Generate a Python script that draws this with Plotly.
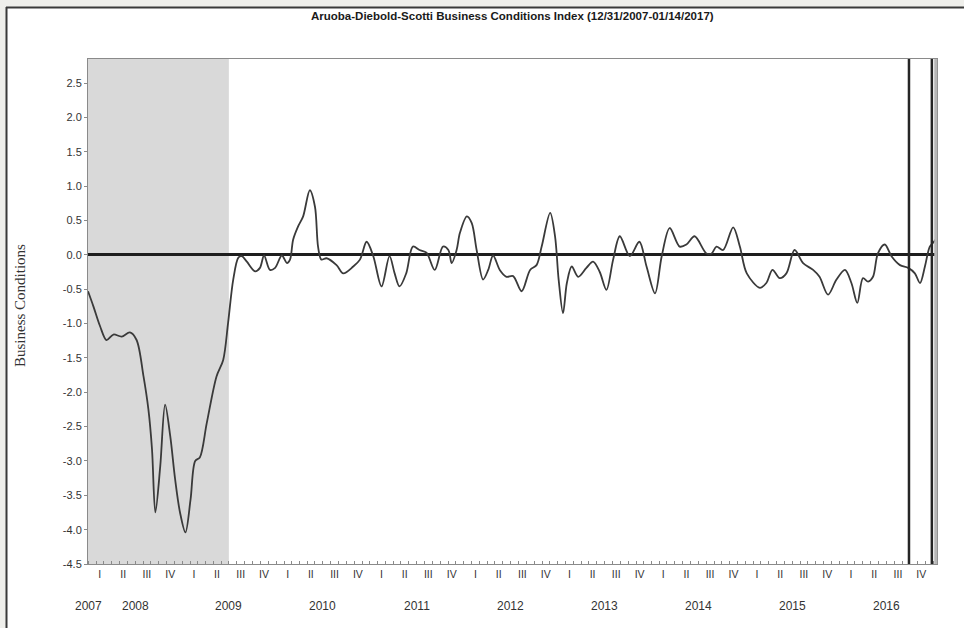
import plotly.graph_objects as go

# ---------------- data ----------------
dates = [
    "2007-12-31", "2008-01-21", "2008-02-16", "2008-03-12", "2008-04-08", "2008-05-10",
    "2008-06-11", "2008-07-07", "2008-08-03", "2008-08-22", "2008-09-05", "2008-09-18",
    "2008-10-07", "2008-10-26", "2008-11-15", "2008-12-04", "2008-12-23", "2009-01-13",
    "2009-02-02", "2009-02-20", "2009-03-10", "2009-04-06", "2009-05-14", "2009-06-09",
    "2009-06-28", "2009-07-18", "2009-08-07", "2009-08-20", "2009-09-09", "2009-10-11",
    "2009-10-30", "2009-11-15", "2009-12-08", "2009-12-28", "2010-01-23", "2010-02-12",
    "2010-02-24", "2010-03-08", "2010-03-27", "2010-04-16", "2010-05-12", "2010-06-01",
    "2010-06-13", "2010-06-26", "2010-07-16", "2010-08-24", "2010-09-19", "2010-10-28",
    "2010-11-23", "2010-12-19", "2011-01-14", "2011-02-15", "2011-03-18", "2011-04-07",
    "2011-04-26", "2011-05-22", "2011-06-17", "2011-07-13", "2011-08-09", "2011-09-10",
    "2011-10-12", "2011-11-02", "2011-11-15", "2011-12-04", "2011-12-17", "2012-01-13",
    "2012-02-01", "2012-02-20", "2012-03-16", "2012-04-05", "2012-04-24", "2012-05-20",
    "2012-06-15", "2012-07-11", "2012-08-13", "2012-09-15", "2012-10-10", "2012-10-30",
    "2012-12-02", "2012-12-21", "2013-01-04", "2013-01-21", "2013-02-05", "2013-02-24",
    "2013-03-21", "2013-04-22", "2013-05-18", "2013-06-13", "2013-07-09", "2013-08-04",
    "2013-08-30", "2013-10-08", "2013-11-14", "2013-12-12", "2014-01-14", "2014-02-09",
    "2014-03-12", "2014-04-20", "2014-05-16", "2014-06-17", "2014-08-02", "2014-08-22",
    "2014-09-10", "2014-10-06", "2014-11-14", "2014-12-10", "2015-01-06", "2015-02-26",
    "2015-03-23", "2015-04-16", "2015-05-14", "2015-06-09", "2015-07-11", "2015-08-13",
    "2015-09-21", "2015-10-16", "2015-11-18", "2015-12-21", "2016-01-23", "2016-02-17",
    "2016-03-11", "2016-04-02", "2016-04-22", "2016-05-11", "2016-05-30", "2016-06-26",
    "2016-07-22", "2016-08-24", "2016-09-25", "2016-10-21", "2016-11-10", "2016-11-29",
    "2016-12-18", "2017-01-03", "2017-01-14",
]
values = [
    -0.53, -0.75, -1.04, -1.24, -1.16, -1.19,
    -1.13, -1.24, -1.77, -2.25, -2.83, -3.75,
    -3.08, -2.18, -2.64, -3.27, -3.75, -4.04,
    -3.56, -3.00, -2.95, -2.45, -1.77, -1.53,
    -0.99, -0.36, -0.04, -0.02, -0.10, -0.24,
    -0.19, -0.01, -0.22, -0.19, -0.01, -0.12,
    -0.07, 0.22, 0.41, 0.56, 0.94, 0.70,
    0.12, -0.07, -0.05, -0.15, -0.27, -0.17,
    -0.07, 0.19, -0.02, -0.46, -0.02, -0.27,
    -0.46, -0.27, 0.12, 0.07, 0.03, -0.22,
    0.12, 0.07, -0.12, 0.07, 0.32, 0.56,
    0.46, 0.07, -0.36, -0.22, -0.01, -0.22,
    -0.32, -0.31, -0.53, -0.22, -0.15, 0.12,
    0.61, 0.27, -0.36, -0.85, -0.41, -0.17,
    -0.32, -0.19, -0.10, -0.25, -0.51, -0.07,
    0.27, -0.02, 0.19, -0.17, -0.56, -0.02,
    0.39, 0.12, 0.15, 0.27, 0.02, 0.02,
    0.12, 0.07, 0.40, 0.12, -0.27, -0.48,
    -0.41, -0.22, -0.34, -0.27, 0.07, -0.12,
    -0.22, -0.32, -0.58, -0.36, -0.22, -0.41,
    -0.70, -0.34, -0.39, -0.32, 0.02, 0.15,
    -0.02, -0.15, -0.19, -0.27, -0.41, -0.17,
    0.12, 0.19, 0.25,
]

recession = ["2007-12-31", "2009-07-01"]
vertical_lines = ["2016-09-28", "2016-12-26"]

y_ticks = [2.5, 2.0, 1.5, 1.0, 0.5, 0.0, -0.5, -1.0, -1.5, -2.0, -2.5, -3.0, -3.5, -4.0, -4.5]
y_tick_labels = ["2.5", "2.0", "1.5", "1.0", "0.5", "0.0", "-0.5", "-1.0", "-1.5", "-2.0",
                 "-2.5", "-3.0", "-3.5", "-4.0", "-4.5"]

quarter_labels = ["I", "II", "III", "IV"]
quarter_mid = ["02-15", "05-16", "08-16", "11-15"]
quarter_years = [2008, 2009, 2010, 2011, 2012, 2013, 2014, 2015, 2016]

year_labels = ["2007", "2008", "2009", "2010", "2011", "2012", "2013", "2014", "2015", "2016"]
year_positions = ["2007-12-31", "2008-07-01", "2009-07-01", "2010-07-01", "2011-07-01",
                  "2012-07-01", "2013-07-01", "2014-07-01", "2015-07-01", "2016-07-01"]

title_text = "Aruoba-Diebold-Scotti Business Conditions Index (12/31/2007-01/14/2017)"
y_title = "Business Conditions"

# ---------------- figure ----------------
tickvals = []
ticktext = []
for yr in quarter_years:
    for q, md in zip(quarter_labels, quarter_mid):
        tickvals.append(f"{yr}-{md}")
        ticktext.append(q)

SANS = "Liberation Sans, Arial, sans-serif"
fig = go.Figure()
fig.add_trace(go.Scatter(
    x=dates, y=values, mode="lines",
    line=dict(color="#3a3a3a", width=1.8, shape="spline", smoothing=0.9),
    hoverinfo="skip", showlegend=False,
))

shapes = [
    # window chrome: gray strips top and left with dark edge
    dict(type="rect", xref="paper", yref="paper", x0=-0.2, x1=1.2, y0=(564 - 7) / 505, y1=1.3,
         fillcolor="#efefeb", line_width=0, layer="below"),
    dict(type="rect", xref="paper", yref="paper", x0=-0.2, x1=(6 - 88) / 849, y0=-0.3, y1=1.3,
         fillcolor="#efefeb", line_width=0, layer="below"),
    dict(type="line", xref="paper", yref="paper", x0=(6 - 88) / 849, x1=1.2,
         y0=(564 - 7.5) / 505, y1=(564 - 7.5) / 505, line=dict(color="#3a3a3a", width=2), layer="below"),
    dict(type="line", xref="paper", yref="paper", x0=(6.5 - 88) / 849, x1=(6.5 - 88) / 849,
         y0=-0.3, y1=(564 - 7) / 505, line=dict(color="#3a3a3a", width=2), layer="below"),
    # recession shading
    dict(type="rect", xref="x", yref="paper", x0=recession[0], x1=recession[1], y0=0, y1=1,
         fillcolor="#d9d9d9", line_width=0, layer="below"),
]
for d in vertical_lines:
    shapes.append(dict(type="line", xref="x", yref="paper", x0=d, x1=d, y0=0, y1=1,
                       line=dict(color="#262626", width=2.5), layer="above"))
# gray right border strip of the plot
shapes.append(dict(type="line", xref="paper", yref="paper", x0=0.9985, x1=0.9985, y0=0, y1=1,
                   line=dict(color="#b8b8b8", width=3), layer="above"))

annotations = [
    dict(text=f"<b>{title_text}</b>", xref="paper", yref="paper", x=(512 - 88) / 849,
         y=(564 - 16) / 505, xanchor="center", yanchor="middle", showarrow=False,
         font=dict(family=SANS, size=11.5, color="#1a1a1a")),
    dict(text=y_title, xref="paper", yref="paper", x=(20 - 88) / 849, y=(564 - 306) / 505,
         xanchor="center", yanchor="middle", textangle=-90, showarrow=False,
         font=dict(family="Liberation Serif, Times New Roman, serif", size=15, color="#333333")),
]
for lab, pos in zip(year_labels, year_positions):
    annotations.append(dict(text=lab, xref="x", yref="paper", x=pos, y=(564 - 606) / 505,
                            xanchor="center", yanchor="middle", showarrow=False,
                            font=dict(family=SANS, size=12, color="#333333")))

fig.update_layout(
    width=964, height=628,
    margin=dict(l=88, r=27, t=59, b=64),
    paper_bgcolor="white", plot_bgcolor="white",
    shapes=shapes, annotations=annotations,
    showlegend=False,
    xaxis=dict(
        type="date", range=["2007-12-31", "2017-01-15"],
        tickmode="array", tickvals=tickvals, ticktext=ticktext,
        ticks="", showgrid=False, zeroline=False,
        showline=True, linecolor="#8a8a8a", linewidth=1, mirror=True,
        tickfont=dict(family=SANS, size=10.5, color="#333333"),
        minor=dict(dtick="M1", tick0="2008-01-01", ticks="inside", ticklen=3,
                   tickcolor="#8a8a8a", showgrid=False),
    ),
    yaxis=dict(
        range=[-4.5, 2.85],
        tickmode="array", tickvals=y_ticks, ticktext=y_tick_labels,
        ticks="outside", ticklen=3, tickcolor="#8a8a8a",
        showgrid=False,
        zeroline=True, zerolinecolor="#1e1e1e", zerolinewidth=3,
        showline=True, linecolor="#8a8a8a", linewidth=1, mirror=True,
        tickfont=dict(family=SANS, size=11, color="#333333"),
    ),
)

fig.write_html("out.html",
               config={"displayModeBar": False, "staticPlot": True},
               post_script="document.body.style.margin='0px';document.body.style.overflow='hidden';")
